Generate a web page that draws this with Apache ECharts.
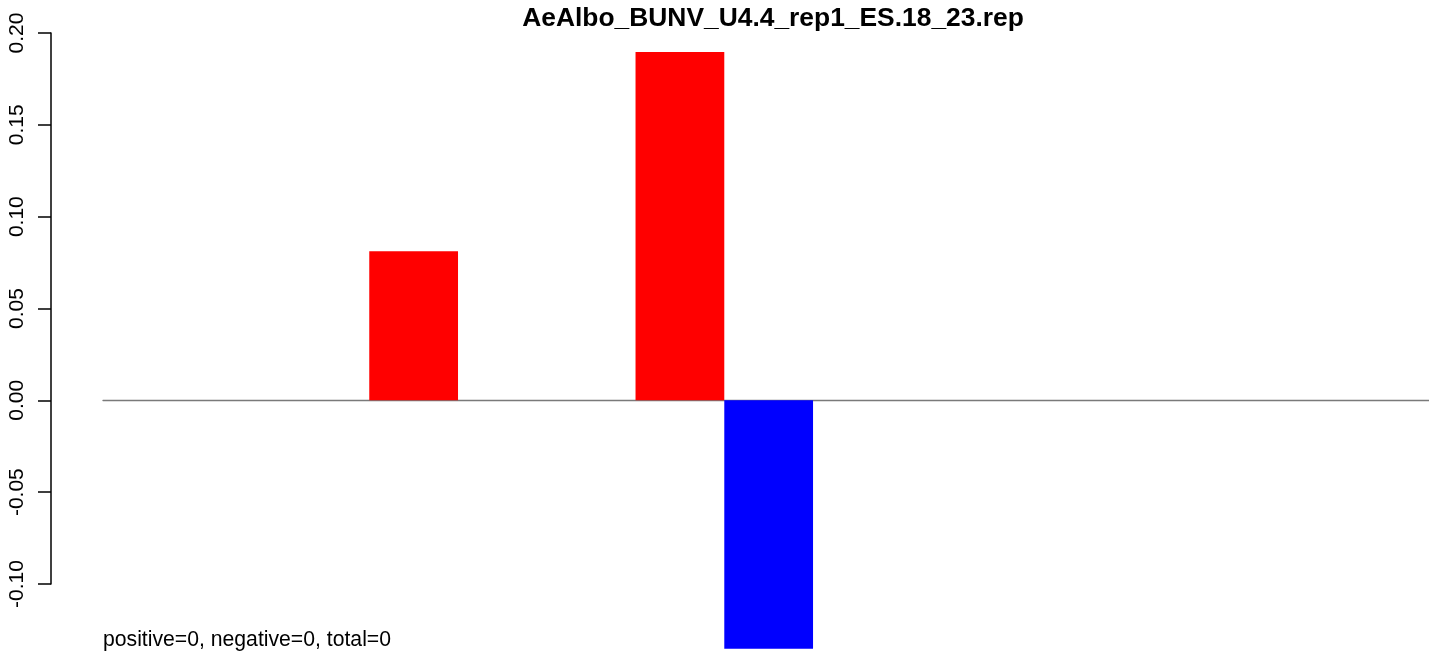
<!DOCTYPE html>
<html>
<head>
<meta charset="utf-8">
<script src="https://cdn.jsdelivr.net/npm/echarts@6/dist/echarts.min.js"></script>
<style>
html,body{margin:0;padding:0;background:#fff;}
#chart{width:1429px;height:653px;}
</style>
</head>
<body>
<div id="chart"></div>
<script>
var titleText = 'AeAlbo_BUNV_U4.4_rep1_ES.18_23.rep';
var footerText = 'positive=0, negative=0, total=0';
var slotCount = 15;
var positiveValues = [null,null,null,0.0812,null,null,0.1896,null,null,null,null,null,null,null,null];
var negativeValues = [null,null,null,null,null,null,null,-0.1353,null,null,null,null,null,null,null];
var yTicks = [-0.10,-0.05,0.00,0.05,0.10,0.15,0.20];
var yTickLabels = ['-0.10','-0.05','0.00','0.05','0.10','0.15','0.20'];

function toPoints(arr){
  var out = [];
  for (var i=0;i<arr.length;i++){ if (arr[i] !== null) out.push([i+0.5, arr[i]]); }
  return out;
}

var gridLeft = 103, gridRight = 0;
var xMax = 14.94;
var slotPx = (1429 - gridLeft - gridRight) / xMax;

var chart = echarts.init(document.getElementById('chart'), null, {renderer:'canvas'});
var font = 'Liberation Sans, Arial, Helvetica, sans-serif';
chart.setOption({
  animation:false,
  backgroundColor:'#ffffff',
  title:{
    text:titleText, left:768, top:1, textAlign:'center',
    textStyle:{fontFamily:font, fontSize:26.4, fontWeight:'bold', color:'#000'}
  },
  graphic:[{
    type:'text', left:103, top:630,
    style:{text:footerText, font:'21.2px ' + font, fill:'#000'}
  }],
  grid:{left:gridLeft, top:33, right:gridRight, bottom:69, containLabel:false},
  xAxis:{
    type:'value', min:0, max:xMax,
    axisLine:{show:true, onZero:true, lineStyle:{color:'#7a7a7a', width:1.3}},
    axisTick:{show:false}, axisLabel:{show:false}, splitLine:{show:false}
  },
  yAxis:{
    type:'value', min:yTicks[0], max:yTicks[yTicks.length-1], interval:0.05,
    offset:52,
    axisLine:{show:true, onZero:false, lineStyle:{color:'#000', width:1.5}},
    axisTick:{show:true, length:13, lineStyle:{color:'#000', width:1.5}},
    splitLine:{show:false},
    axisLabel:{
      rotate:90, margin:23, fontFamily:font, fontSize:21, color:'#000',
      formatter:function(v){
        for (var i=0;i<yTicks.length;i++){ if (Math.abs(v-yTicks[i])<1e-9) return yTickLabels[i]; }
        return '';
      }
    }
  },
  series:[
    {type:'bar', name:'positive', data:toPoints(positiveValues), barWidth:slotPx, barGap:'-100%', clip:false,
     itemStyle:{color:'#ff0000'}},
    {type:'bar', name:'negative', data:toPoints(negativeValues), barWidth:slotPx, barGap:'-100%', clip:false,
     itemStyle:{color:'#0000ff'}}
  ]
});
</script>
</body>
</html>
